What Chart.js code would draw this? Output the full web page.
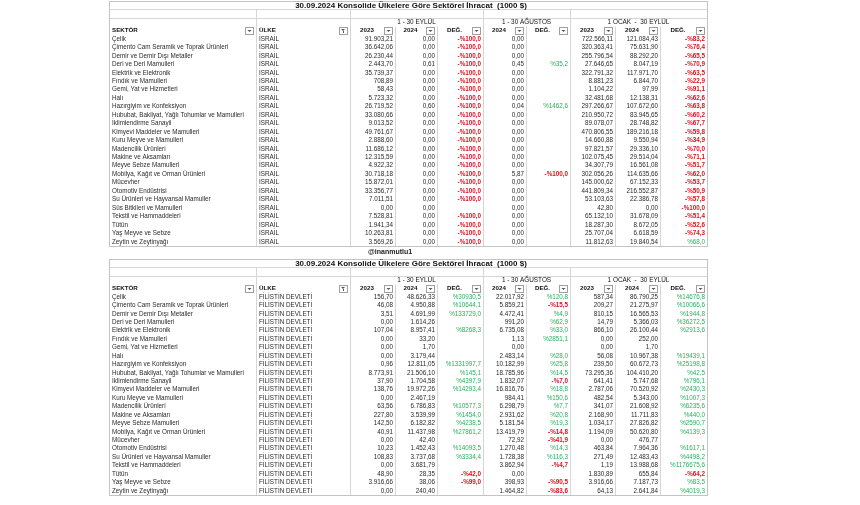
<!DOCTYPE html>
<html lang="tr">
<head>
<meta charset="utf-8">
<title>Konsolide Ülkelere Göre Sektörel İhracat</title>
<script src="https://cdn.jsdelivr.net/npm/chart.js@4.4.1/dist/chart.umd.min.js"></script>
<style>
  html, body { margin: 0; padding: 0; background: #fff; }
  #wrap { position: relative; width: 860px; height: 505px; overflow: hidden; }
  canvas { position: absolute; left: 0; }
</style>
</head>
<body>
<div id="wrap">
  <canvas id="israil" width="860" height="258" style="top:0"></canvas>
  <canvas id="filistin" width="860" height="247" style="top:258px"></canvas>
</div>
<script>
'use strict';

// Texts
const TITLE = '30.09.2024 Konsolide Ülkelere Göre Sektörel İhracat  (1000 $)';
const PERIODS = ['1 - 30 EYLÜL', '1 - 30 AĞUSTOS', '1 OCAK  -  30 EYLÜL'];
const COLUMN_HEADERS = ['SEKTÖR', 'ÜLKE', '2023', '2024', 'DEĞ.', '2024', 'DEĞ.', '2023', '2024', 'DEĞ.'];
const WATERMARK = '@inanmutlu1';

const sectorsIsrail = [
  'Çelik', 'Çimento Cam Seramik ve Toprak Ürünleri', 'Demir ve Demir Dışı Metaller',
  'Deri ve Deri Mamulleri', 'Elektrik ve Elektronik', 'Fındık ve Mamulleri',
  'Gemi, Yat ve Hizmetleri', 'Halı', 'Hazırgiyim ve Konfeksiyon',
  'Hububat, Bakliyat, Yağlı Tohumlar ve Mamulleri', 'İklimlendirme Sanayii',
  'Kimyevi Maddeler ve Mamulleri', 'Kuru Meyve ve Mamulleri', 'Madencilik Ürünleri',
  'Makine ve Aksamları', 'Meyve Sebze Mamulleri', 'Mobilya, Kağıt ve Orman Ürünleri',
  'Mücevher', 'Otomotiv Endüstrisi', 'Su Ürünleri ve Hayvansal Mamuller',
  'Süs Bitkileri ve Mamulleri', 'Tekstil ve Hammaddeleri', 'Tütün',
  'Yaş Meyve ve Sebze', 'Zeytin ve Zeytinyağı'
];
// the Palestine table has no row for ornamental plants
const sectorsFilistin = sectorsIsrail.filter(s => s !== 'Süs Bitkileri ve Mamulleri');

// İSRAİL (1000 $)
const isrEylul2023 = [91903.21, 36642.06, 26230.44, 2443.70, 35739.37, 708.89, 58.43, 5723.32, 26719.52, 33080.66, 9013.52, 49761.67, 2888.60, 11686.12, 12315.59, 4922.32, 30718.18, 15872.01, 33356.77, 7011.51, 0, 7528.81, 1941.34, 10263.81, 3569.26];
const isrEylul2024 = [0, 0, 0, 0.61, 0, 0, 0, 0, 0.60, 0, 0, 0, 0, 0, 0, 0, 0, 0, 0, 0, 0, 0, 0, 0, 0];
const isrEylulDeg = [-100, -100, -100, -100, -100, -100, -100, -100, -100, -100, -100, -100, -100, -100, -100, -100, -100, -100, -100, -100, null, -100, -100, -100, -100];
const isrAgustos2024 = [0, 0, 0, 0.45, 0, 0, 0, 0, 0.04, 0, 0, 0, 0, 0, 0, 0, 5.87, 0, 0, 0, 0, 0, 0, 0, 0];
const isrAgustosDeg = [null, null, null, 35.2, null, null, null, null, 1462.6, null, null, null, null, null, null, null, -100, null, null, null, null, null, null, null, null];
const isrOcak2023 = [722566.11, 320363.41, 255796.54, 27646.65, 322791.32, 8881.23, 1104.22, 32481.68, 297266.67, 210950.72, 89078.07, 470806.55, 14660.88, 97821.57, 102075.45, 34307.79, 302056.26, 145000.62, 441809.34, 53103.63, 42.80, 65132.10, 18287.30, 25707.04, 11812.63];
const isrOcak2024 = [121084.43, 75631.90, 88292.20, 8047.19, 117971.70, 6844.70, 97.99, 12138.31, 107672.60, 83945.65, 28748.82, 189216.18, 9550.94, 29336.10, 29514.04, 16561.08, 114635.66, 67152.33, 216552.87, 22386.78, 0, 31678.09, 8672.05, 6618.59, 19840.54];
const isrOcakDeg = [-83.2, -76.4, -65.5, -70.9, -63.5, -22.9, -91.1, -62.6, -63.8, -60.2, -67.7, -59.8, -34.9, -70.0, -71.1, -51.7, -62.0, -53.7, -50.9, -57.8, -100.0, -51.4, -52.6, -74.3, 68.0];

// FİLİSTİN DEVLETİ (1000 $)
const filEylul2023 = [156.70, 46.08, 3.51, 0, 107.04, 0, 0, 0, 0.96, 8773.91, 37.90, 138.76, 0, 63.56, 227.80, 142.50, 40.91, 0, 10.23, 108.83, 0, 48.90, 3916.66, 0];
const filEylul2024 = [48626.33, 4950.88, 4691.99, 1614.26, 8957.41, 33.20, 1.70, 3179.44, 12811.05, 21506.10, 1704.58, 19972.26, 2467.19, 6786.83, 3539.99, 6182.82, 11437.98, 42.40, 1452.43, 3737.68, 3681.79, 28.35, 38.06, 240.40];
const filEylulDeg = [30930.5, 10644.1, 133729.0, null, 8268.3, null, null, null, 1331997.7, 145.1, 4397.9, 14293.4, null, 10577.3, 1454.0, 4238.5, 27861.2, null, 14093.5, 3334.4, null, -42.0, -99.0, null];
const filAgustos2024 = [22017.92, 5859.21, 4472.41, 991.20, 6735.08, 1.13, 0, 2483.14, 10182.99, 18785.96, 1832.07, 16816.76, 984.41, 6298.79, 2931.62, 5181.54, 13419.79, 72.92, 1270.48, 1728.38, 3862.94, 0, 398.93, 1464.82];
const filAgustosDeg = [120.8, -15.5, 4.9, 62.9, 33.0, 2851.1, null, 28.0, 25.8, 14.5, -7.0, 18.8, 150.6, 7.7, 20.8, 19.3, -14.8, -41.9, 14.3, 116.3, -4.7, null, -90.5, -83.6];
const filOcak2023 = [587.34, 209.27, 810.15, 14.79, 866.10, 0, 0, 56.08, 239.50, 73295.36, 641.41, 2787.06, 482.54, 341.07, 2168.90, 1034.17, 1194.09, 0, 463.84, 271.49, 1.19, 1830.89, 3916.66, 64.13];
const filOcak2024 = [86790.25, 21275.97, 16565.53, 5366.03, 26100.44, 252.00, 1.70, 10967.38, 60672.73, 104410.20, 5747.68, 70520.92, 5343.00, 21608.92, 11711.83, 27826.82, 50620.80, 476.77, 7964.36, 12483.43, 13988.68, 655.84, 7187.73, 2641.84];
const filOcakDeg = [14676.8, 10066.6, 1944.8, 36272.5, 2913.6, null, null, 19439.1, 25198.8, 42.5, 796.1, 2430.3, 1007.3, 6235.6, 440.0, 2590.7, 4139.3, null, 1617.1, 4498.2, 1176675.6, -64.2, 83.5, 4019.3];

// Layout (table column widths, in px units of the x scale)
const COL_WIDTHS = [147, 94, 45, 42, 46, 43, 44, 45, 45, 47];
const EDGES = COL_WIDTHS.reduce((e, w) => { e.push(e[e.length - 1] + w); return e; }, [0]);
const PERIOD_SPANS = [[2, 5], [5, 7], [7, 10]];
const FONT = '"Liberation Sans", Arial, sans-serif';
const INK = '#2a2a2a';
const RED = '#e0101f';
const GREEN = '#27b25c';
const GRID = '#d6d6d6';
const BORDER = '#c4c4c4';

// Turkish number formats: 91.903,21 and -%100,0
function fmtNum(v) {
  const parts = v.toFixed(2).split('.');
  return parts[0].replace(/\B(?=(\d{3})+(?!\d))/g, '.') + ',' + parts[1];
}
function fmtPct(v) {
  if (v === null) return '';
  return (v < 0 ? '-%' : '%') + Math.abs(v).toFixed(1).replace('.', ',');
}
function pctColor(v) {
  return v !== null && v < 0 ? RED : GREEN;
}

function snap(v) {
  return Math.round(v) + 0.5;
}

function drawFilterBox(ctx, x, y, funnel) {
  x = Math.round(x);
  y = Math.round(y);
  ctx.save();
  ctx.fillStyle = '#fff';
  ctx.strokeStyle = '#a0a0a0';
  ctx.lineWidth = 1;
  ctx.fillRect(x, y, 8, 7);
  ctx.strokeRect(x + 0.5, y + 0.5, 8, 7);
  ctx.fillStyle = '#555';
  ctx.beginPath();
  if (funnel) {
    ctx.moveTo(x + 2, y + 2);
    ctx.lineTo(x + 6, y + 2);
    ctx.lineTo(x + 4, y + 4);
    ctx.closePath();
    ctx.fill();
    ctx.fillRect(x + 4, y + 4, 1, 2);
  } else {
    ctx.moveTo(x + 2.5, y + 3);
    ctx.lineTo(x + 6.5, y + 3);
    ctx.lineTo(x + 4.5, y + 5);
    ctx.closePath();
    ctx.fill();
  }
  ctx.restore();
}

// Plugin that paints the spreadsheet: grid, headers and the cell texts of each dataset
const tablePlugin = {
  id: 'tableCells',
  beforeDatasetsDraw(chart) {
    const ctx = chart.ctx;
    const x = chart.scales.x, y = chart.scales.y;
    const n = y.getLabels().length;
    const band = (y.bottom - y.top) / n;
    const colX = i => snap(x.getPixelForValue(EDGES[i]));
    const rowTop = i => snap(y.getPixelForValue(i) - band / 2);
    const last = EDGES.length - 1;

    ctx.save();
    ctx.strokeStyle = GRID;
    ctx.lineWidth = 1;
    ctx.beginPath();
    [1, 2].forEach(r => {
      ctx.moveTo(colX(0), rowTop(r));
      ctx.lineTo(colX(last), rowTop(r));
    });
    [1, 2, 5, 7].forEach(c => {
      ctx.moveTo(colX(c), rowTop(1));
      ctx.lineTo(colX(c), snap(y.bottom));
    });
    [3, 4, 6, 8, 9].forEach(c => {
      ctx.moveTo(colX(c), rowTop(3));
      ctx.lineTo(colX(c), snap(y.bottom));
    });
    ctx.stroke();
    ctx.strokeStyle = BORDER;
    ctx.strokeRect(colX(0), snap(y.top), colX(last) - colX(0), snap(y.bottom) - snap(y.top));
    ctx.restore();
  },
  afterDatasetsDraw(chart, args, opts) {
    const ctx = chart.ctx;
    const x = chart.scales.x, y = chart.scales.y;
    const px = v => x.getPixelForValue(v);
    const last = EDGES.length - 1;

    ctx.save();
    ctx.textBaseline = 'middle';
    ctx.fillStyle = '#111';

    // title row
    ctx.font = 'bold 8px ' + FONT;
    ctx.textAlign = 'center';
    ctx.fillText(TITLE, (px(EDGES[0]) + px(EDGES[last])) / 2 + 3, y.getPixelForValue(0) + 0.5);

    // period row
    ctx.font = '6.4px ' + FONT;
    PERIOD_SPANS.forEach((span, k) => {
      ctx.fillText(PERIODS[k], (px(EDGES[span[0]]) + px(EDGES[span[1]])) / 2, y.getPixelForValue(2));
    });

    // column header row
    const hy = y.getPixelForValue(3);
    ctx.font = 'bold 6.2px ' + FONT;
    COLUMN_HEADERS.forEach((h, c) => {
      const l = px(EDGES[c]), r = px(EDGES[c + 1]);
      ctx.fillStyle = '#111';
      if (c < 2) {
        ctx.textAlign = 'left';
        ctx.fillText(h, l + 3, hy);
      } else {
        ctx.textAlign = 'center';
        ctx.fillText(h, (l + r - 11) / 2, hy);
      }
      drawFilterBox(ctx, r - 11, hy - 3.5, c === 1);
    });

    // cells, placed by the scales through each dataset's points
    chart.data.datasets.forEach((ds, d) => {
      const meta = chart.getDatasetMeta(d);
      ctx.textAlign = ds.align;
      meta.data.forEach((pt, i) => {
        const t = ds.texts[i];
        if (!t) return;
        const color = ds.colors ? ds.colors[i] : INK;
        ctx.font = (color === RED ? 'bold ' : '') + '6.3px ' + FONT;
        ctx.fillStyle = color;
        ctx.fillText(t, pt.x, pt.y);
      });
    });

    if (opts.watermark) {
      ctx.font = 'bold 7px ' + FONT;
      ctx.textAlign = 'left';
      ctx.fillStyle = '#222';
      ctx.fillText(WATERMARK, px(EDGES[0]) + 259, y.bottom + 6.5);
    }
    ctx.restore();
  }
};

function buildTable(canvasId, country, sectors, cols, padding, watermark) {
  const rows = ['title', 'blank', 'period', 'header'].concat(sectors);
  const columns = [
    { texts: sectors, align: 'left' },
    { texts: sectors.map(() => country), align: 'left' },
    { texts: cols[0].map(fmtNum) },
    { texts: cols[1].map(fmtNum) },
    { texts: cols[2].map(fmtPct), colors: cols[2].map(pctColor) },
    { texts: cols[3].map(fmtNum) },
    { texts: cols[4].map(fmtPct), colors: cols[4].map(pctColor) },
    { texts: cols[5].map(fmtNum) },
    { texts: cols[6].map(fmtNum) },
    { texts: cols[7].map(fmtPct), colors: cols[7].map(pctColor) }
  ];

  const datasets = columns.map((col, c) => {
    const align = col.align || 'right';
    const xPos = align === 'left' ? EDGES[c] + 3 : EDGES[c + 1] - 2;
    return {
      label: COLUMN_HEADERS[c],
      data: sectors.map(s => ({ x: xPos, y: s })),
      texts: col.texts,
      colors: col.colors,
      align: align,
      pointRadius: 0,
      pointHoverRadius: 0
    };
  });

  return new Chart(document.getElementById(canvasId), {
    type: 'scatter',
    data: { labels: rows, datasets: datasets },
    options: {
      responsive: false,
      animation: false,
      devicePixelRatio: 1,
      events: [],
      layout: { padding: padding },
      plugins: {
        legend: { display: false },
        tooltip: { enabled: false },
        tableCells: { watermark: watermark }
      },
      scales: {
        x: { type: 'linear', display: false, min: 0, max: EDGES[EDGES.length - 1] },
        y: { type: 'category', labels: rows, offset: true, display: false }
      }
    },
    plugins: [tablePlugin]
  });
}

buildTable('israil', 'İSRAİL', sectorsIsrail,
  [isrEylul2023, isrEylul2024, isrEylulDeg, isrAgustos2024, isrAgustosDeg, isrOcak2023, isrOcak2024, isrOcakDeg],
  { left: 109, right: 860 - 109 - EDGES[EDGES.length - 1], top: 1, bottom: 12 }, true);

buildTable('filistin', 'FİLİSTİN DEVLETİ', sectorsFilistin,
  [filEylul2023, filEylul2024, filEylulDeg, filAgustos2024, filAgustosDeg, filOcak2023, filOcak2024, filOcakDeg],
  { left: 109, right: 860 - 109 - EDGES[EDGES.length - 1], top: 1, bottom: 10 }, false);
</script>
</body>
</html>
